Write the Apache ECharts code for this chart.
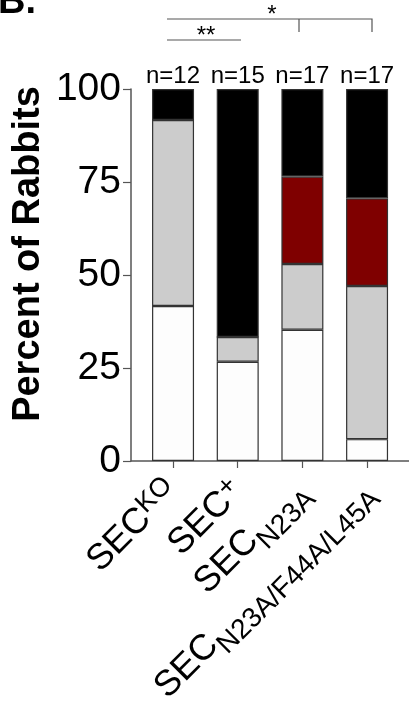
<!DOCTYPE html>
<html>
<head>
<meta charset="utf-8">
<script src="https://cdn.jsdelivr.net/npm/echarts@6/dist/echarts.min.js"></script>
<style>
  html, body { margin: 0; padding: 0; background: #fff; }
  #main { width: 409px; height: 705px; }
</style>
</head>
<body>
<div id="main"></div>
<script>
// groups and their rich tick labels
var categories = ['SECKO', 'SEC+', 'SECN23A', 'SECN23A/F44A/L45A'];
var groupLabels = ['{m|SEC}{sup|KO}', '{m|SEC}{sup|+}', '{m|SEC}{sub|N23A}', '{m|SEC}{sub|N23A/F44A/L45A}'];
var nLabels = ['n=12', 'n=15', 'n=17', 'n=17'];

// percent of rabbits in each outcome (stacked bottom -> top)
var whiteVals = [41.67, 26.67, 35.29, 5.88];
var grayVals = [50.00, 6.67, 17.65, 41.18];
var redVals = [0, 0, 23.53, 23.53];
var blackVals = [8.33, 66.67, 23.53, 29.41];

var FONT = 'Liberation Sans, Arial, sans-serif';

function barSeries(name, vals, color) {
    return {
        name: name,
        type: 'bar',
        stack: 'all',
        xAxisIndex: 0,
        yAxisIndex: 0,
        barWidth: 42,
        data: vals,
        itemStyle: { color: color, borderColor: '#333', borderWidth: 1.2 },
        emphasis: { disabled: true }
    };
}

var chart = echarts.init(document.getElementById('main'));

var blackSeries = barSeries('black', blackVals, '#000000');
blackSeries.label = {
    show: true,
    position: 'top',
    distance: 1,
    color: '#000',
    fontFamily: FONT,
    fontSize: 24,
    formatter: function (p) { return nLabels[p.dataIndex]; }
};

var option = {
    animation: false,
    grid: [
        // bars
        { left: 140.7, top: 89, right: 9.6, bottom: 244, containLabel: false, outerBoundsMode: 'none' },
        // frame (axis lines + y labels)
        { left: 131, top: 89, right: 0, bottom: 244, containLabel: false, outerBoundsMode: 'none' }
    ],
    xAxis: [
        {
            type: 'category',
            gridIndex: 0,
            data: categories,
            axisLine: { show: false },
            axisTick: { show: true, alignWithLabel: true, length: 7, lineStyle: { color: '#555', width: 1.2 } },
            axisLabel: {
                show: true,
                interval: 0,
                rotate: 45,
                margin: 25,
                color: '#000',
                fontFamily: FONT,
                formatter: function (v, i) { return groupLabels[i]; },
                rich: {
                    m: { fontSize: 36, fontFamily: FONT, color: '#000' },
                    sup: { fontSize: 27, padding: [0, 0, 14, 0], fontFamily: FONT, color: '#000' },
                    sub: { fontSize: 28, padding: [26, 0, 0, 0], fontFamily: FONT, color: '#000' }
                }
            }
        },
        {
            type: 'value',
            gridIndex: 1,
            min: 0,
            max: 1,
            splitLine: { show: false },
            axisLine: { show: true, onZero: false, lineStyle: { color: '#555', width: 1.5 } },
            axisTick: { show: false },
            axisLabel: { show: false }
        }
    ],
    yAxis: [
        { type: 'value', gridIndex: 0, min: 0, max: 100, show: false },
        {
            type: 'value',
            gridIndex: 1,
            min: 0,
            max: 100,
            interval: 25,
            splitLine: { show: false },
            axisLine: { show: true, onZero: false, lineStyle: { color: '#555', width: 1.5 } },
            axisTick: { show: true, length: 8, lineStyle: { color: '#555', width: 1.2 } },
            axisLabel: { margin: 10, color: '#000', fontSize: 39, fontFamily: FONT }
        }
    ],
    graphic: [
        {
            type: 'text', x: -2, y: 3, silent: true,
            style: { text: 'B.', font: 'bold 38px "Liberation Sans", Arial, sans-serif', fill: '#000', textVerticalAlign: 'middle' }
        },
        {
            type: 'text', x: 29, y: 254, rotation: Math.PI / 2, silent: true,
            style: { text: 'Percent of Rabbits', font: 'bold 38px "Liberation Sans", Arial, sans-serif', fill: '#000', textAlign: 'center', textVerticalAlign: 'middle' }
        },
        // significance brackets
        { type: 'line', silent: true, shape: { x1: 167, y1: 40, x2: 241, y2: 40 }, style: { stroke: '#555', lineWidth: 1.2 } },
        {
            type: 'text', x: 206, y: 36, silent: true,
            style: { text: '**', font: '24px "Liberation Sans", Arial, sans-serif', fill: '#000', textAlign: 'center', textVerticalAlign: 'middle' }
        },
        { type: 'polyline', silent: true, shape: { points: [[167, 19], [372, 19], [372, 32]] }, style: { stroke: '#555', lineWidth: 1.2, fill: null } },
        { type: 'line', silent: true, shape: { x1: 299, y1: 19, x2: 299, y2: 32 }, style: { stroke: '#555', lineWidth: 1.2 } },
        {
            type: 'text', x: 272, y: 15, silent: true,
            style: { text: '*', font: '24px "Liberation Sans", Arial, sans-serif', fill: '#000', textAlign: 'center', textVerticalAlign: 'middle' }
        }
    ],
    series: [
        barSeries('white', whiteVals, '#fdfdfd'),
        barSeries('gray', grayVals, '#cccccc'),
        barSeries('red', redVals, '#7f0000'),
        blackSeries
    ]
};

chart.setOption(option);
</script>
</body>
</html>
